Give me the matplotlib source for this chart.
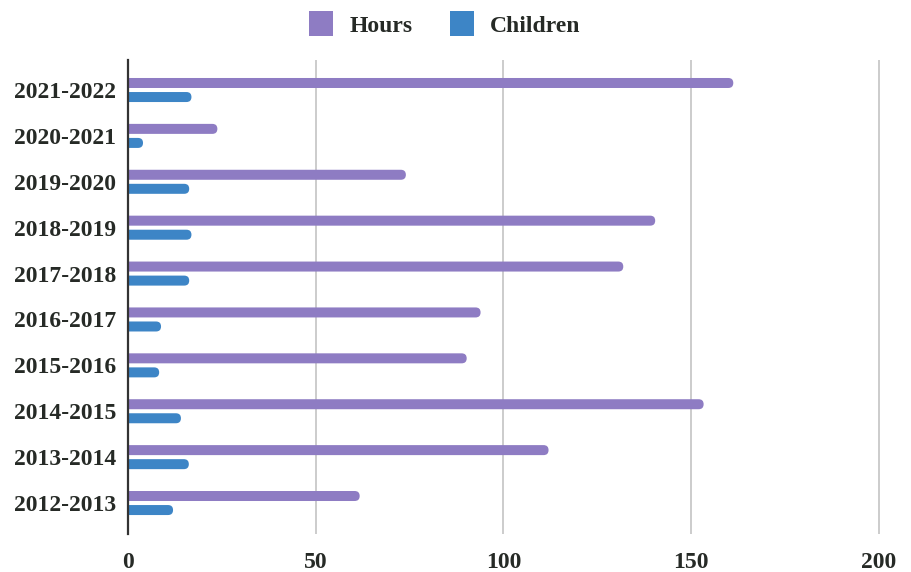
import matplotlib
matplotlib.use('Agg')
import matplotlib.pyplot as plt
from matplotlib.patches import FancyBboxPatch, Patch
import numpy as np

# data
seasons = ['2012-2013', '2013-2014', '2014-2015', '2015-2016', '2016-2017',
           '2017-2018', '2018-2019', '2019-2020', '2020-2021', '2021-2022']
hours = [61.7, 112, 153.3, 90.2, 93.9, 131.9, 140.4, 74, 23.8, 161.2]
children = [12, 16.2, 14.1, 8.3, 8.8, 16.3, 16.9, 16.3, 4, 16.9]

HOURS_COLOR = '#8e7cc3'
CHILD_COLOR = '#3d85c6'
TEXT_COLOR = '#262a26'

plt.rcParams['font.family'] = ['Liberation Serif', 'DejaVu Serif']
plt.rcParams['font.weight'] = 'bold'

fig = plt.figure(figsize=(9.12, 5.72), dpi=100)
ax = fig.add_axes([128 / 912, 38 / 572, 758.5 / 912, 474 / 572])

xmax = 202
ymin, ymax = -0.675, 9.654
ax.set_xlim(0, xmax)
ax.set_ylim(ymin, ymax)

y = np.arange(len(seasons))
bar_h = 0.218
off = 0.153

# bars first as plain rectangles, then swapped for rounded ones
b1 = ax.barh(y + off, hours, height=bar_h, color=HOURS_COLOR, zorder=3)
b2 = ax.barh(y - off, children, height=bar_h, color=CHILD_COLOR, zorder=3)

fig.canvas.draw()
bbox = ax.get_window_extent()
px_x = bbox.width / xmax            # pixels per x unit
px_y = bbox.height / (ymax - ymin)  # pixels per y unit
radius_px = 5
r = radius_px / px_x
aspect = px_x / px_y

for bars in (b1, b2):
    for rect in bars:
        x0, y0 = rect.get_x(), rect.get_y()
        w, h = rect.get_width(), rect.get_height()
        rect.set_visible(False)
        fb = FancyBboxPatch((x0 - r, y0), w + r, h,
                            boxstyle=f'round,pad=0,rounding_size={r}',
                            mutation_aspect=aspect,
                            facecolor=rect.get_facecolor(), edgecolor='none',
                            zorder=3, clip_on=True)
        ax.add_patch(fb)

ax.set_xticks([0, 50, 100, 150, 200])
ax.set_yticks(y)
ax.set_yticklabels(seasons)
ax.tick_params(axis='x', length=0, pad=13, labelsize=17, labelcolor=TEXT_COLOR)
ax.tick_params(axis='y', length=0, pad=8.6, labelsize=17, labelcolor=TEXT_COLOR)

ax.grid(axis='x', color='#cccccc', linewidth=1.4, zorder=0)
ax.grid(axis='y', visible=False)
for s in ['top', 'right', 'bottom']:
    ax.spines[s].set_visible(False)
ax.spines['left'].set_color('#333333')
ax.spines['left'].set_linewidth(1.6)
ax.spines['left'].set_zorder(4)

handles = [Patch(facecolor=HOURS_COLOR, label='Hours'),
           Patch(facecolor=CHILD_COLOR, label='Children')]
leg = fig.legend(handles=handles, loc='center', bbox_to_anchor=(445 / 912, 1 - 24 / 572),
                 ncol=2, frameon=False, fontsize=17, handlelength=1.0, handleheight=1.2,
                 handletextpad=0.7, columnspacing=1.6, labelcolor=TEXT_COLOR)

fig.savefig('out.png', dpi=100)
